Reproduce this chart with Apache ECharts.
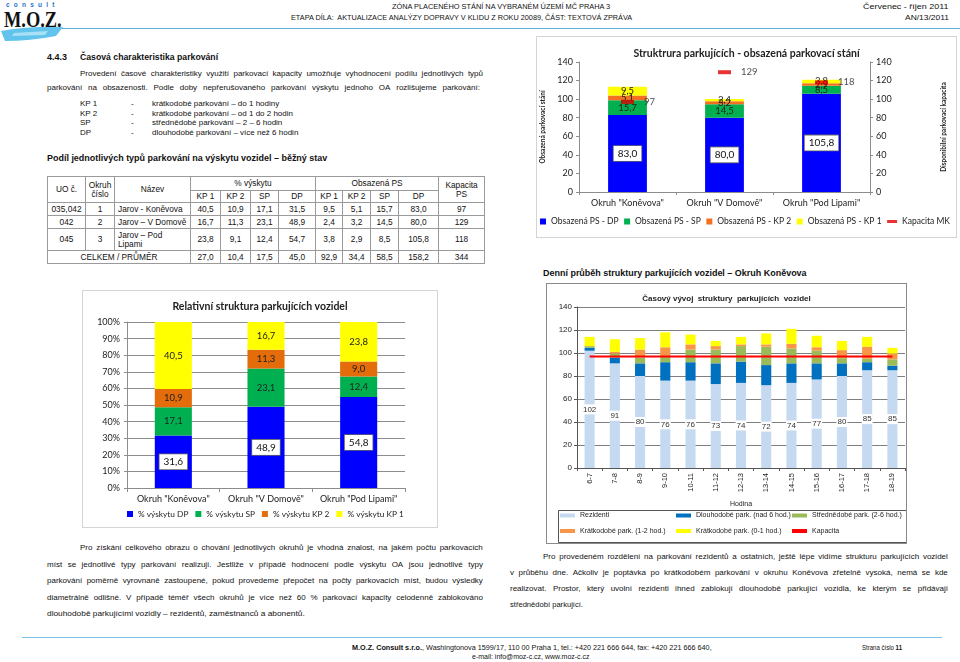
<!DOCTYPE html>
<html><head><meta charset="utf-8">
<script src="https://cdn.jsdelivr.net/npm/echarts@6/dist/echarts.min.js"></script>
<style>
body{margin:0;background:#fff;}
#page{position:relative;width:960px;height:662px;background:#fff;overflow:hidden;font-family:'Liberation Sans',Arial,sans-serif;color:#111;}
.t{position:absolute;white-space:nowrap;line-height:1;}
.j{position:absolute;display:flex;justify-content:space-between;white-space:nowrap;line-height:1;}
.frame{position:absolute;pointer-events:none;box-sizing:border-box;z-index:5;}
.ch{position:absolute;}
table.tb{position:absolute;border-collapse:collapse;table-layout:fixed;font-size:8.3px;}
table.tb td{border:1px solid #9a9a9a;text-align:center;padding:0;line-height:1.05;overflow:hidden;white-space:nowrap;}
</style></head><body><div id="page">
<svg style="position:absolute;left:0;top:0" width="70" height="44">
  <path d="M1,31 Q30,26 63,27 L56,36 Q30,41 5,41 Z" fill="#62c4ec"/>
  <path d="M14,33 L48,31 L45,35 L12,36 Z" fill="#a8e0f6"/>
  <text x="6" y="7" font-size="6.5" font-weight="bold" fill="#2a74c9" letter-spacing="4.2" font-family="Liberation Sans">consult</text>
  <text x="4" y="27" font-size="23" font-weight="bold" fill="#111" font-family="Liberation Serif" transform="translate(4,0) scale(0.8,1) translate(-4,0)">M.O.Z.</text>
</svg>
<div style="position:absolute;left:62px;top:28px;width:898px;height:1px;background:#5badd8"></div>
<div style="position:absolute;left:22px;top:637px;width:920px;height:1px;background:#7cc0e4"></div>
<div id="c1" class="ch" style="left:536px;top:36px;width:421px;height:202px"></div>
<div class="frame" style="left:536px;top:36px;width:421px;height:202px;border:1px solid #d4d4d4"></div>
<div id="c2" class="ch" style="left:82px;top:290px;width:356px;height:238px"></div>
<div class="frame" style="left:82px;top:290px;width:356px;height:238px;border:1px solid #d4d4d4"></div>
<div id="c3" class="ch" style="left:546px;top:283px;width:361px;height:261px"></div>
<div class="frame" style="left:546px;top:283px;width:361px;height:261px;border:1.5px solid #8a8a8a"></div>
</div>
<script>
// ---------- DATA ----------
const okruhy = ['Okruh "Koněvova"', 'Okruh "V Domově"', 'Okruh "Pod Lipami"'];
// Chart 1: obsazená parkovací stání
const obsDP  = [83.0, 80.0, 105.8];
const obsSP  = [15.7, 14.5, 8.5];
const obsKP2 = [5.1, 3.2, 2.9];
const obsKP1 = [9.5, 2.4, 3.8];
const kapacitaMK = [97, 129, 118];
// Chart 2: relativní struktura (%)
const pctDP  = [31.6, 48.9, 54.8];
const pctSP  = [17.1, 23.1, 12.4];
const pctKP2 = [10.9, 11.3, 9.0];
const pctKP1 = [40.5, 16.7, 23.8];
const pctTicks = [0,10,20,30,40,50,60,70,80,90,100];
// Chart 3: časový vývoj – Okruh Koněvova
const hodiny = ['6-7','7-8','8-9','9-10','10-11','11-12','12-13','13-14','14-15','15-16','16-17','17-18','18-19'];
const rezidenti    = [102, 91, 80, 76, 76, 73, 74, 72, 74, 77, 80, 85, 85];
const dlouhodobe   = [2.5, 5, 11, 16, 16, 18, 18.5, 17.5, 17, 14, 11, 7, 4];
const strednedobe  = [1.5, 3.5, 5, 5, 11, 12, 13.5, 16, 13, 11, 4.5, 3, 5.5];
const kratkodobe12 = [0, 1.5, 7, 8, 4.5, 3, 1.5, 2, 4, 3, 7, 10.5, 5];
const kratkodobe01 = [8, 11, 10, 13, 8.5, 4.5, 6.5, 9.5, 13, 10, 8, 8.5, 5];
const kapacitaK    = [97, 97, 97, 97, 97, 97, 97, 97, 97, 97, 97, 97, 97];
// Table
const tabRows = [
  ['035,042', '1', 'Jarov - Koněvova'],
  ['042', '2', 'Jarov – V Domově'],
  ['045', '3', 'Jarov – Pod<br>Lipami']
];
const tabPct = [[40.5,10.9,17.1,31.5],[16.7,11.3,23.1,48.9],[23.8,9.1,12.4,54.7]];
const tabObs = [[9.5,5.1,15.7,83.0],[2.4,3.2,14.5,80.0],[3.8,2.9,8.5,105.8]];
const tabKap = [97, 129, 118];
const totPct = [27.0, 10.4, 17.5, 45.0];
const totObs = [92.9, 34.4, 58.5, 158.2];
const totKap = 344;
// Texts
const para1 = [
  'Provedení časové charakteristiky využití parkovací kapacity umožňuje vyhodnocení podílu jednotlivých typů',
  'parkování na obsazenosti. Podle doby nepřerušovaného parkování výskytu jednoho OA rozlišujeme parkování:'
];
const typy = [
  ['KP 1', 'krátkodobé parkování – do 1 hodiny'],
  ['KP 2', 'krátkodobé parkování – od 1 do 2 hodin'],
  ['SP', 'střednědobé parkování – 2 – 6 hodin'],
  ['DP', 'dlouhodobé parkování – více než 6 hodin']
];
const para2 = [
  'Pro získání celkového obrazu o chování jednotlivých okruhů je vhodná znalost, na jakém počtu parkovacích',
  'míst se jednotlivé typy parkování realizují. Jestliže v případě hodnocení podle výskytu OA jsou jednotlivé typy',
  'parkování poměrně vyrovnaně zastoupené, pokud provedeme přepočet na počty parkovacích míst, budou výsledky',
  'diametrálně odlišné. V případě téměř všech okruhů je více než 60 % parkovací kapacity celodenně zablokováno',
  'dlouhodobě parkujícími vozidly – rezidentů, zaměstnanců a abonentů.'
];
const para3 = [
  'Pro provedeném rozdělení na parkování rezidentů a ostatních, ještě lépe vidíme strukturu parkujících vozidel',
  'v průběhu dne. Ačkoliv je poptávka po krátkodobém parkování v okruhu Koněvova zřetelně vysoká, nemá se kde',
  'realizovat. Prostor, který uvolní rezidenti ihned zablokují dlouhodobě parkující vozidla, ke kterým se přidávají',
  'střednědobí parkující.'
];

// ---------- TEXT HELPERS ----------
const page = document.getElementById('page');
function put(html, x, y, fs, opt) {
  opt = opt || {};
  const d = document.createElement('div');
  d.className = 't';
  d.innerHTML = html;
  d.style.fontSize = fs + 'px';
  if (opt.bold) d.style.fontWeight = 'bold';
  if (opt.color) d.style.color = opt.color;
  if (opt.font) d.style.fontFamily = opt.font;
  page.appendChild(d);
  const w = d.offsetWidth, h = d.offsetHeight;
  const tw = opt.w || w;
  let left = x;
  if (opt.right != null) left = opt.right - tw;
  if (opt.center != null) left = opt.center - tw / 2;
  d.style.left = left + 'px';
  d.style.top = (y - h / 2) + 'px';
  d.style.transformOrigin = '0 50%';
  if (opt.w) d.style.transform = 'scaleX(' + (opt.w / w) + ')';
  return d;
}
function just(s, x, y, w, fs) {
  const d = document.createElement('div');
  d.className = 'j';
  d.style.left = x + 'px';
  d.style.width = w + 'px';
  d.style.fontSize = fs + 'px';
  s.split(' ').forEach(word => { const sp = document.createElement('span'); sp.textContent = word; d.appendChild(sp); });
  page.appendChild(d);
  d.style.top = (y - d.offsetHeight / 2) + 'px';
}

// header
put('ZÓNA PLACENÉHO STÁNÍ NA VYBRANÉM ÚZEMÍ MČ PRAHA 3', 0, 6.5, 7.5, {center: 501, w: 218});
put('ETAPA DÍLA:&nbsp; AKTUALIZACE ANALÝZY DOPRAVY V KLIDU Z ROKU 20089, ČÁST: TEXTOVÁ ZPRÁVA', 291, 18, 7.5, {w: 341});
put('Červenec - říjen 2011', 0, 6.5, 7.5, {right: 949, w: 86});
put('AN/13/2011', 0, 18, 7.5, {right: 949, w: 44});

// section text
put('4.4.3', 47, 57, 9, {bold: true});
put('Časová charakteristika parkování', 80, 57, 9, {bold: true, w: 138});
just(para1[0], 80, 74, 403, 8);
just(para1[1], 47, 88, 433, 8);
const listY = [104, 113.5, 123, 132.5];
typy.forEach((t, i) => {
  put(t[0], 80, listY[i], 8);
  put('-', 131, listY[i], 8);
  put(t[1], 152, listY[i], 8);
});
put('Podíl jednotlivých typů parkování na výskytu vozidel – běžný stav', 47, 158, 8.8, {bold: true, w: 280});

// table
(function(){
  const colW = [38,29,76,30,30,28,37,27,28,28,40,46];
  const rowH = [13.5,12.5,13,13,22,13];
  const f = v => v.toFixed(1).replace('.', ',');
  let h = '<colgroup>' + colW.map(w => '<col style="width:' + w + 'px">').join('') + '</colgroup>';
  h += '<tr style="height:' + rowH[0] + 'px"><td rowspan="2">UO č.</td><td rowspan="2">Okruh<br>číslo</td><td rowspan="2">Název</td><td colspan="4">% výskytu</td><td colspan="4">Obsazená PS</td><td rowspan="2">Kapacita<br>PS</td></tr>';
  h += '<tr style="height:' + rowH[1] + 'px">' + ['KP 1','KP 2','SP','DP','KP 1','KP 2','SP','DP'].map(s => '<td>' + s + '</td>').join('') + '</tr>';
  tabRows.forEach((r, i) => {
    h += '<tr style="height:' + rowH[2 + i] + 'px"><td>' + r[0] + '</td><td>' + r[1] + '</td><td style="text-align:left;padding-left:3px;white-space:normal">' + r[2] + '</td>' +
      tabPct[i].map(v => '<td>' + f(v) + '</td>').join('') + tabObs[i].map(v => '<td>' + f(v) + '</td>').join('') + '<td>' + tabKap[i] + '</td></tr>';
  });
  h += '<tr style="height:' + rowH[5] + 'px"><td colspan="3">CELKEM / PRŮMĚR</td>' + totPct.map(v => '<td>' + f(v) + '</td>').join('') + totObs.map(v => '<td>' + f(v) + '</td>').join('') + '<td>' + totKap + '</td></tr>';
  const t = document.createElement('table');
  t.className = 'tb';
  t.style.left = '47px'; t.style.top = '176px'; t.style.width = colW.reduce((a, b) => a + b, 0) + 'px';
  t.innerHTML = h;
  page.appendChild(t);
})();

// bottom paragraphs
const p2y = [548, 564.5, 581, 597.5, 614];
just(para2[0], 80, p2y[0], 403, 8);
for (let i = 1; i < 4; i++) just(para2[i], 47, p2y[i], 436, 8);
put(para2[4], 47, p2y[4], 8, {w: 258});
const p3y = [557, 573, 589, 605];
just(para3[0], 543, p3y[0], 405, 8);
for (let i = 1; i < 3; i++) just(para3[i], 510, p3y[i], 438, 8);
put(para3[3], 510, p3y[3], 8, {w: 73});

// chart 3 heading
put('Denní průběh struktury parkujících vozidel – Okruh Koněvova', 543, 273.5, 8.8, {bold: true, w: 264});

// footer
put('<b>M.O.Z. Consult s.r.o.</b>, Washingtonova 1599/17, 110 00 Praha 1, tel.: +420 221 666 644, fax: +420 221 666 640,', 352, 648, 6.5, {w: 360});
put('e-mail: info@moz-c.cz, www.moz-c.cz', 0, 657, 6.5, {center: 531, w: 118});
put('Strana číslo <b>11</b>', 862, 648, 6.5, {w: 40});

// ---------- CHARTS ----------
const fmt1 = p => p.value.toFixed(1).replace('.', ',');
const grayAx = {lineStyle: {color: '#8c8c8c'}};

// Chart 1
const c1 = echarts.init(document.getElementById('c1'));
const lblPlain = {show: true, position: 'inside', formatter: fmt1, fontSize: 9.5, color: '#222', fontFamily: 'Lato'};
const lblBox = {show: true, position: 'inside', formatter: fmt1, fontSize: 10, color: '#111', fontFamily: 'Lato', backgroundColor: '#fff', borderColor: '#666', borderWidth: 0.8, padding: [3, 4, 2, 4]};
const names1 = ['Obsazená PS - DP', 'Obsazená PS - SP', 'Obsazená PS - KP 2', 'Obsazená PS - KP 1', 'Kapacita MK'];
// legend layout: spread the five entries over the legend row
const LEG1_FS = 8.5;
const ctx = document.createElement('canvas').getContext('2d');
ctx.font = LEG1_FS + 'px Lato';
const iconW1 = names1.map((n, i) => i === 4 ? 10 : 6);
const itemW1 = names1.map((n, i) => iconW1[i] + 5 + ctx.measureText(n).width);
const legStart = 4, legEnd = 414;
const gap1 = Math.max(4, (legEnd - legStart - itemW1.reduce((a, b) => a + b, 0)) / 4);
const leg1X = [];
itemW1.reduce((x, w) => { leg1X.push(x); return x + w + gap1; }, legStart);
c1.setOption({
  animation: false,
  textStyle: {fontFamily: 'Lato'},
  title: {text: 'Struktrura parkujících - obsazená parkovací stání', left: 'center', top: 7, textStyle: {fontSize: 10.5, fontWeight: 'bold', color: '#222', fontFamily: 'Lato'}},
  grid: {left: 43, right: 87, top: 26, bottom: 46, outerBoundsMode: 'none'},
  xAxis: {type: 'category', data: okruhy, axisLine: grayAx, axisTick: {show: true, length: 3, lineStyle: {color: '#8c8c8c'}}, axisLabel: {interval: 0, fontSize: 9, color: '#222', margin: 7}},
  yAxis: [
    {type: 'value', min: 0, max: 140, interval: 20, name: 'Obsazená parkovací stání', nameLocation: 'middle', nameGap: 26, nameTextStyle: {fontSize: 6.5, fontWeight: 'bold', color: '#222'},
     axisLine: {show: true, lineStyle: {color: '#8c8c8c'}}, axisTick: {show: true, length: 3, lineStyle: {color: '#8c8c8c'}}, splitLine: {show: false}, axisLabel: {fontSize: 9, color: '#222', margin: 6}},
    {type: 'value', min: 0, max: 140, interval: 20, position: 'right', name: 'Disponibilní parkovací kapacita', nameLocation: 'middle', nameGap: 70, nameTextStyle: {fontSize: 6.5, fontWeight: 'bold', color: '#222'},
     axisLine: {show: true, lineStyle: {color: '#8c8c8c'}}, axisTick: {show: true, length: 3, lineStyle: {color: '#8c8c8c'}}, splitLine: {show: false}, axisLabel: {fontSize: 9, color: '#222', margin: 6}}
  ],
  legend: names1.map((n, i) => ({data: [n], left: leg1X[i], top: 181, itemWidth: iconW1[i], itemHeight: i === 4 ? 3 : 6, icon: 'rect', padding: 0, textStyle: {fontSize: LEG1_FS, color: '#222', fontFamily: 'Lato'}})),
  series: [
    {name: names1[0], type: 'bar', stack: 'a', data: obsDP, barWidth: '40%', itemStyle: {color: '#0000ff'}, label: lblBox},
    {name: names1[1], type: 'bar', stack: 'a', data: obsSP, itemStyle: {color: '#00b050'}, label: lblPlain},
    {name: names1[2], type: 'bar', stack: 'a', data: obsKP2, itemStyle: {color: '#f37021'}, label: lblPlain},
    {name: names1[3], type: 'bar', stack: 'a', data: obsKP1, itemStyle: {color: '#ffff00'}, label: lblPlain},
    {name: names1[4], type: 'scatter', yAxisIndex: 1, data: kapacitaMK, symbol: 'rect', symbolSize: [13, 4], itemStyle: {color: '#e00000'}, z: 5,
     label: {show: true, position: 'right', distance: 10, formatter: p => String(p.value), fontSize: 9.5, color: '#222', fontFamily: 'Lato'}}
  ]
});

// Chart 2
const c2 = echarts.init(document.getElementById('c2'));
c2.setOption({
  animation: false,
  textStyle: {fontFamily: 'Lato'},
  title: {text: 'Relativní struktura parkujících vozidel', left: 'center', top: 6, textStyle: {fontSize: 10.5, fontWeight: 'bold', color: '#222', fontFamily: 'Lato'}},
  grid: {left: 45, right: 33, top: 32, bottom: 40, outerBoundsMode: 'none'},
  xAxis: {type: 'category', data: okruhy, axisLine: grayAx, axisTick: {show: true, length: 4, lineStyle: {color: '#8c8c8c'}}, axisLabel: {interval: 0, fontSize: 9, color: '#222', margin: 7}},
  yAxis: {type: 'value', min: pctTicks[0], max: pctTicks[pctTicks.length - 1], interval: 10, axisLabel: {formatter: '{value}%', fontSize: 9, color: '#222', margin: 7},
    axisLine: {show: true, lineStyle: {color: '#8c8c8c'}}, axisTick: {show: true, length: 3, lineStyle: {color: '#8c8c8c'}}, splitLine: {show: true, lineStyle: {color: '#8c8c8c', width: 1}}},
  legend: {data: ['% výskytu DP', '% výskytu SP', '% výskytu KP 2', '% výskytu KP 1'], left: 45, top: 220, itemWidth: 6, itemHeight: 6, itemGap: 7, icon: 'rect', padding: 0, textStyle: {fontSize: 8.3, color: '#222', fontFamily: 'Lato'}},
  series: [
    {name: '% výskytu DP', type: 'bar', stack: 'p', data: pctDP, barWidth: '40%', itemStyle: {color: '#0000ff'}, label: lblBox},
    {name: '% výskytu SP', type: 'bar', stack: 'p', data: pctSP, itemStyle: {color: '#00b050'}, label: lblPlain},
    {name: '% výskytu KP 2', type: 'bar', stack: 'p', data: pctKP2, itemStyle: {color: '#e46c0a'}, label: lblPlain},
    {name: '% výskytu KP 1', type: 'bar', stack: 'p', data: pctKP1, itemStyle: {color: '#ffff00'}, label: lblPlain}
  ]
});

// Chart 3
const c3 = echarts.init(document.getElementById('c3'));
const F3 = 'Liberation Sans';
const legPos = [[14, 229], [130, 229], [246, 229], [14, 244.5], [130, 244.5], [246, 244.5]];
const names3 = ['Rezidenti', 'Dlouhodobé park. (nad 6 hod.)', 'Střednědobé park. (2-6 hod.)', 'Krátkodobé park. (1-2 hod.)', 'Krátkodobé park. (0-1 hod.)', 'Kapacita'];
c3.setOption({
  animation: false,
  textStyle: {fontFamily: F3},
  title: {text: 'Časový vývoj  struktury  parkujících  vozidel', left: 'center', top: 7, textStyle: {fontSize: 8, fontWeight: 'bold', color: '#222', fontFamily: F3}},
  grid: {left: 31, right: 2, top: 24, bottom: 76, outerBoundsMode: 'none'},
  xAxis: {type: 'category', data: hodiny, name: 'Hodina', nameLocation: 'middle', nameGap: 31, nameTextStyle: {fontSize: 7, color: '#222'},
    axisLine: {lineStyle: {color: '#555'}}, axisTick: {show: true, length: 3, lineStyle: {color: '#555'}}, axisLabel: {interval: 0, rotate: 90, fontSize: 7.5, color: '#222', margin: 5}},
  yAxis: {type: 'value', min: 0, max: 140, interval: 20, name: 'Počet OA', nameLocation: 'middle', nameGap: 21, nameTextStyle: {fontSize: 6.5, color: '#222'},
    axisLine: {show: true, lineStyle: {color: '#555'}}, axisTick: {show: true, length: 3, lineStyle: {color: '#555'}}, splitLine: {show: true, lineStyle: {color: '#7f7f7f', width: 1}}, axisLabel: {fontSize: 8, color: '#222', margin: 5}},
  legend: names3.map((n, i) => ({data: [n], left: legPos[i][0], top: legPos[i][1], itemWidth: 15, itemHeight: 4, itemGap: 2, icon: 'rect', padding: 0, textStyle: {fontSize: 7, color: '#222', fontFamily: F3}})),
  graphic: [{type: 'rect', left: 10, top: 225, shape: {width: 348, height: 32}, style: {fill: 'none', stroke: '#555', lineWidth: 1}, z: -1}],
  series: [
    {name: names3[0], type: 'bar', stack: 'r', data: rezidenti, barWidth: '40%', itemStyle: {color: '#c5d9f1'},
     label: {show: true, position: 'inside', formatter: p => String(p.value), fontSize: 8, color: '#333', backgroundColor: '#fff', padding: [1, 1]}},
    {name: names3[1], type: 'bar', stack: 'r', data: dlouhodobe, itemStyle: {color: '#0070c0'}},
    {name: names3[2], type: 'bar', stack: 'r', data: strednedobe, itemStyle: {color: '#9bbb59'}},
    {name: names3[3], type: 'bar', stack: 'r', data: kratkodobe12, itemStyle: {color: '#f79646'}},
    {name: names3[4], type: 'bar', stack: 'r', data: kratkodobe01, itemStyle: {color: '#ffff00'}},
    {name: names3[5], type: 'line', data: kapacitaK, symbol: 'none', lineStyle: {color: '#ff0000', width: 2}, itemStyle: {color: '#ff0000'}, z: 10}
  ]
});
</script>
</body></html>
